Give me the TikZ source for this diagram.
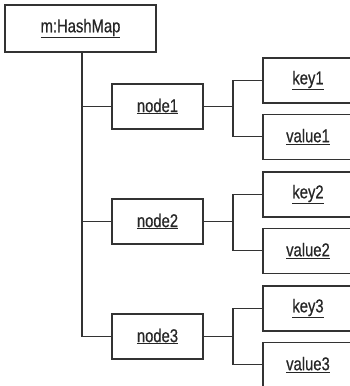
\documentclass[tikz,border=0pt]{standalone}
\usepackage{fontspec}
\setmainfont{Liberation Sans}[FakeStretch=0.8, FakeBold=0.6]
\usepackage{tikz}
\usetikzlibrary{positioning}
\usepackage{xcolor}

\begin{document}
\begin{tikzpicture}[
                x=1pt, y=-1pt,
                node distance=10pt,
                every node/.style={font=\fontsize{18.5}{20}\selectfont, text=black!85},
                object/.style={rectangle, draw=black!80, line width=1.1pt,
                    minimum width=91pt, minimum height=45pt,
                    inner sep=0pt, align=center},
                root/.style={object, minimum width=151pt, minimum height=47pt},
                link/.style={draw=black!80, line width=1.1pt},
            ]
            \useasboundingbox (0,0) rectangle (349,386);
            
            % Nodes
            \node[root] (map) at (80.5,28.5) {\underline{m:HashMap}};
            
            \node[object] (node1) at (157.5,106.5) {\underline{node1}};
            \node[object] (node2) at (157.5,221.5) {\underline{node2}};
            \node[object] (node3) at (157.5,336.5) {\underline{node3}};
            
            \node[object, minimum width=90pt] (key1) at (308,80.5) {\underline{key1}};
            \node[object, minimum width=90pt, below=of key1] (value1) {\underline{value1}};
            \node[object, minimum width=90pt] (key2) at (308,194.5) {\underline{key2}};
            \node[object, minimum width=90pt, below=of key2] (value2) {\underline{value2}};
            \node[object, minimum width=90pt] (key3) at (308,308.5) {\underline{key3}};
            \node[object, minimum width=90pt, below=of key3] (value3) {\underline{value3}};
            
            % Junctions
            \coordinate (trunk) at (82,0);
            \coordinate (j1) at (233,0);
            
            % Trunk
            \draw[link] (trunk |- map.south) |- (node3.west);
            \draw[link] (trunk |- node1.west) -- (node1.west);
            \draw[link] (trunk |- node2.west) -- (node2.west);
            
            % Entries
            \foreach \i in {1,2,3}{
                \draw[link] (node\i.east) -- (j1 |- node\i.east);
                \draw[link] (key\i.west) -| (j1 |- key\i.west) |- (value\i.west);
            }
            
            \end{tikzpicture}
\end{document}
